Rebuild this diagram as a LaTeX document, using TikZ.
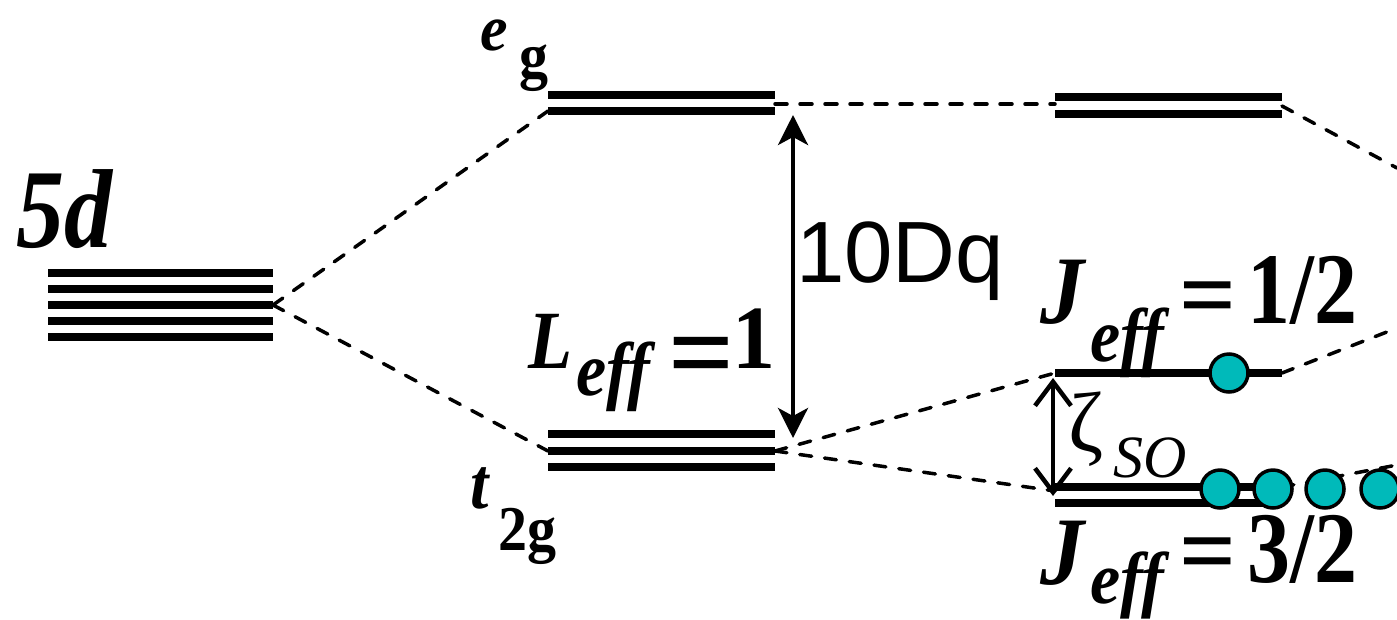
\documentclass[tikz,border=0pt]{standalone}
\usepackage{fontspec}
\setmainfont{Liberation Serif}
\newfontfamily\sansf{Liberation Sans}
\usetikzlibrary{arrows.meta}
\definecolor{elecfill}{RGB}{0,186,186}
\newcommand{\vst}[2]{\scalebox{1}[#1]{#2}}
\begin{document}
\begin{tikzpicture}[x=1pt,y=-1pt,
  level/.style={line width=8pt,line cap=butt},
  conn/.style={line width=3.5pt,line cap=round,dash pattern=on 12pt off 13pt},
  elec/.style={circle,draw=black,line width=3.5pt,fill=elecfill,minimum size=38pt,inner sep=0pt},
  lbl/.style={inner sep=0pt,anchor=base west},
  bi/.style={font=\fontsize{#1}{#1}\selectfont\bfseries\itshape},
  bu/.style={font=\fontsize{#1}{#1}\selectfont\bfseries},
  gaparrow/.style={line width=4.5pt}]
\useasboundingbox (0,0) rectangle (1397,619);

% level end points
\coordinate (d5) at (273,305);
\coordinate (egLin) at (548,111);
\coordinate (egLout) at (775,104);
\coordinate (tLin) at (548,451);
\coordinate (tLout) at (775,451);
\coordinate (egRin) at (1055,104);
\coordinate (egRout) at (1282,106);
\coordinate (jaIn) at (1055,373);
\coordinate (jaOut) at (1282,373);
\coordinate (jbIn) at (1055,491);
\coordinate (jbOut) at (1282,487);
\coordinate (edgeA) at (1397,168);
\coordinate (edgeB) at (1397,328);
\coordinate (edgeC) at (1397,465);

% dashed connectors
\draw[conn] (d5) -- (egLin);
\draw[conn] (d5) -- (tLin);
\draw[conn] (egLout) -- (egRin);
\draw[conn] (tLout) -- (jaIn);
\draw[conn] (tLout) -- (jbIn);
\draw[conn] (egRout) -- (edgeA);
\draw[conn] (jaOut) -- (edgeB);
\draw[conn] (jbOut) -- (edgeC);

% levels
\foreach \yy in {273,289,305,321,337} \draw[level] (48,\yy) -- (273,\yy);
\foreach \yy in {95,111} \draw[level] (548,\yy) -- (775,\yy);
\foreach \yy in {434,451,467} \draw[level] (548,\yy) -- (775,\yy);
\foreach \yy in {97,114} \draw[level] (1055,\yy) -- (1282,\yy);
\draw[level] (jaIn) -- (jaOut);
\foreach \yy in {487,503} \draw[level] (1055,\yy) -- (1282,\yy);

% gap arrows
\coordinate (dqTop) at (793,115);
\coordinate (dqBot) at (793,438);
\draw[gaparrow,line width=4pt,{Stealth[length=30pt,width=30pt,inset=8pt]}-{Stealth[length=30pt,width=30pt,inset=8pt]}] (dqTop) -- (dqBot);
\coordinate (soTop) at (1053,378);
\coordinate (soBot) at (1053,496);
\draw[gaparrow,{Straight Barb[length=24pt,width=36pt,line width=4.5pt]}-{Straight Barb[length=24pt,width=36pt,line width=4.5pt]}] (soTop) -- (soBot);

% electrons
\node[elec] (c0) at (1229,373) {};
\node[elec] (c1) at (1220,489) {};
\node[elec] (c2) at (1273,489) {};
\node[elec] (c3) at (1325,489) {};
\node[elec] (c4) at (1380,489) {};

% labels
\node[lbl,bi=96] (l5d) at (16,247) {\vst{1.17}{5d}};
\node[lbl,bi=62] (le) at (480,50) {\vst{1.05}{e}};
\node[lbl,bu=58] (lg) at (519,77) {\vst{1.1}{g}};
\node[lbl,bi=66] (lt) at (470,508) {\vst{1.1}{t}};
\node[lbl,bu=58] (l2g) at (498,550) {\vst{1.1}{2g}};
\node[lbl,bi=72] (lL) at (528,368) {\vst{1.15}{L}};
\node[lbl,bi=68] (lLs) at (576,395) {\vst{1.12}{eff}};
\node[lbl,bu=116] (lLeq) at (668,391) {=};
\node[lbl,bu=86] (lL1) at (732,368) {\vst{1.05}{1}};
\node[lbl,font=\sansf\fontsize{87}{87}\selectfont] (ldq) at (796,282) {10Dq};
\node[lbl,bi=88] (lJa) at (1040,323) {\vst{1.1}{J}};
\node[lbl,bi=68] (lJas) at (1090,361) {\vst{1.12}{eff}};
\node[lbl,bu=100] (lJaeq) at (1179,328) {=};
\node[lbl,bu=86] (lJav) at (1247,323) {\vst{1.18}{1/2}};
\node[lbl,bi=88] (lJb) at (1040,584) {\vst{1.1}{J}};
\node[lbl,bi=68] (lJbs) at (1090,603) {\vst{1.08}{eff}};
\node[lbl,bu=100] (lJbeq) at (1179,584) {=};
\node[lbl,bu=86] (lJbv) at (1247,582) {\vst{1.18}{3/2}};
\node[lbl,font=\fontsize{85}{85}\selectfont] (lz) at (1068,451) {ζ};
\node[lbl,font=\fontsize{60}{60}\selectfont\itshape] (lzs) at (1113,477) {SO};
\end{tikzpicture}
\end{document}
